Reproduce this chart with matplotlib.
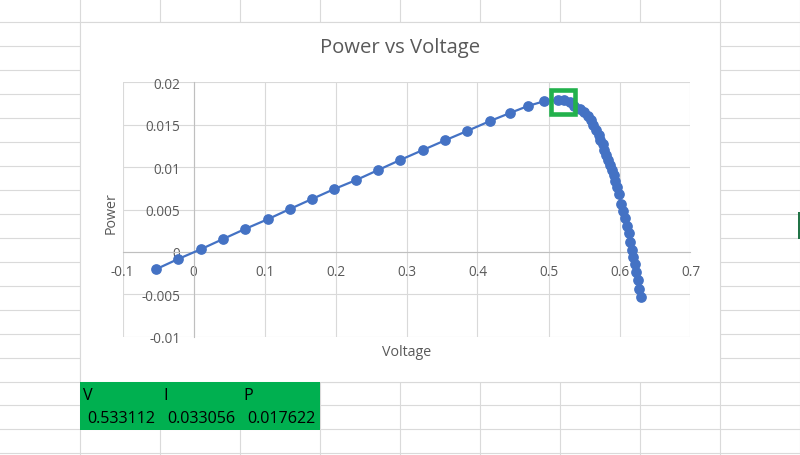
import matplotlib
matplotlib.use("Agg")
import matplotlib.pyplot as plt
from matplotlib.patches import Rectangle

plt.rcParams["font.family"] = ["Open Sans", "DejaVu Sans"]

# P-V curve
voltage = [-0.0527, -0.0222, 0.0105, 0.0411, 0.0720, 0.1048, 0.1353, 0.1662,
           0.1976, 0.2295, 0.2605, 0.2914, 0.3235, 0.3547, 0.3857, 0.4170,
           0.4461, 0.4715, 0.4940, 0.5131, 0.5225, 0.5309, 0.5366, 0.5446,
           0.5506, 0.5553, 0.5600, 0.5633, 0.5671, 0.5707, 0.5731, 0.5764,
           0.5788, 0.5812, 0.5844, 0.5868, 0.5896, 0.5918, 0.5942, 0.5963,
           0.5992, 0.6023, 0.6055, 0.6083, 0.6111, 0.6129, 0.6153, 0.6172,
           0.6191, 0.6219, 0.6233, 0.6256, 0.6276, 0.6304]
power = [-0.00204, -0.00086, 0.00032, 0.00150, 0.00268, 0.00386, 0.00504, 0.00621,
         0.00739, 0.00849, 0.00967, 0.01085, 0.01203, 0.01317, 0.01427, 0.01541,
         0.01639, 0.01722, 0.01777, 0.01792, 0.01792, 0.01765, 0.01726, 0.01686,
         0.01647, 0.01597, 0.01550, 0.01491, 0.01439, 0.01384, 0.01325, 0.01267,
         0.01203, 0.01144, 0.01085, 0.01026, 0.00960, 0.00901, 0.00834, 0.00763,
         0.00680, 0.00563, 0.00483, 0.00397, 0.00307, 0.00221, 0.00118, 0.00024,
         -0.00059, -0.00145, -0.00236, -0.00330, -0.00432, -0.00526]

# highlighted max power point (box) and the cells below the chart
mpp_box = (0.521, 0.01762)
cell_headers = ["V", "I", "P"]
cell_values = ["0.533112", "0.033056", "0.017622"]

x_ticks = [-0.1, 0, 0.1, 0.2, 0.3, 0.4, 0.5, 0.6, 0.7]
x_labels = ["-0.1", "0", "0.1", "0.2", "0.3", "0.4", "0.5", "0.6", "0.7"]
y_ticks = [-0.01, -0.005, 0, 0.005, 0.01, 0.015, 0.02]
y_labels = ["-0.01", "-0.005", "0", "0.005", "0.01", "0.015", "0.02"]

W, H = 800, 456
GRID = "#DADADA"
TXT = "#595959"

fig = plt.figure(figsize=(W / 100, H / 100), dpi=100)

# spreadsheet background in pixel coordinates
bg = fig.add_axes([0, 0, 1, 1])
bg.set_xlim(0, W)
bg.set_ylim(H, 0)
bg.axis("off")
for k in range(10):
    bg.axvline(79.5 + 80 * k, color=GRID, lw=0.8)
for k in range(19):
    bg.axhline(22.5 + 24 * k, color=GRID, lw=0.8)
bg.add_patch(Rectangle((79.5, 22.5), 640, 360, facecolor="white",
                       edgecolor="#D9D9D9", lw=0.8, zorder=3))
bg.add_patch(Rectangle((79.5, 382.5), 240, 48, facecolor="#00B050",
                       edgecolor="none", zorder=3))
bg.add_patch(Rectangle((798, 213), 3, 27, facecolor="#217346",
                       edgecolor="none", zorder=3))
for i, (h, v) in enumerate(zip(cell_headers, cell_values)):
    bg.text(83 + 80 * i, 396, h, fontsize=11.6, color="black",
            ha="left", va="center", zorder=4)
    bg.text(155.5 + 80 * i, 419.5, v, fontsize=11.6, color="black",
            ha="right", va="center", zorder=4)
bg.text(400, 48.5, "Power vs Voltage", fontsize=14.6, color=TXT,
        ha="center", va="center", zorder=4)
bg.text(111, 213, "Power", fontsize=10.3, color=TXT, rotation=90,
        ha="center", va="center", zorder=4)
bg.text(406.5, 352.5, "Voltage", fontsize=10.3, color=TXT,
        ha="center", va="center", zorder=4)

# plot area
l, r, t, b = 122.5, 690.5, 83.3, 337.7
ax = fig.add_axes([l / W, 1 - b / H, (r - l) / W, (b - t) / H])
ax.set_facecolor("none")
ax.set_xlim(-0.1, 0.7)
ax.set_ylim(-0.01, 0.02)
ax.set_xticks(x_ticks)
ax.set_xticklabels(x_labels)
ax.set_yticks(y_ticks)
ax.set_yticklabels(y_labels)
ax.grid(True, color="#D9D9D9", lw=0.8)
ax.set_axisbelow(True)
for s in ["top", "right"]:
    ax.spines[s].set_visible(False)
ax.spines["left"].set_position(("data", 0))
ax.spines["bottom"].set_position(("data", 0))
for s in ["left", "bottom"]:
    ax.spines[s].set_color("#BFBFBF")
    ax.spines[s].set_linewidth(0.8)
ax.tick_params(axis="both", length=0, labelsize=9.8, labelcolor=TXT)
ax.tick_params(axis="x", pad=9)
ax.tick_params(axis="y", pad=9.5)

ax.plot(voltage, power, color="#4472C4", lw=1.6, marker="o", ms=6.7,
        clip_on=False, zorder=3)
ax.plot([mpp_box[0]], [mpp_box[1]], marker="s", ms=16.6, mfc="none",
        mec="#22B14C", mew=3.3, ls="none", clip_on=False, zorder=4)

fig.savefig("out.png", dpi=100)
